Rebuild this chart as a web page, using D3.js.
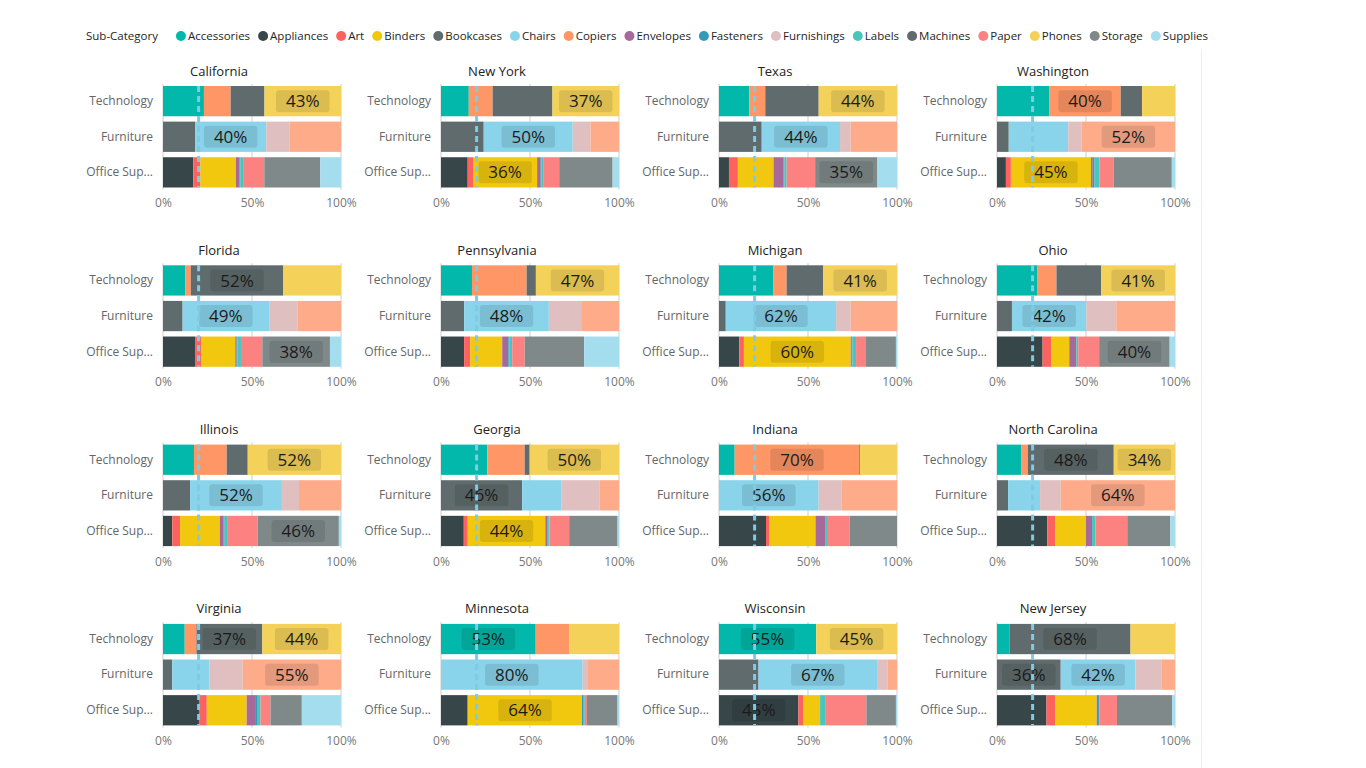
<!DOCTYPE html>
<html>
<head>
<meta charset="utf-8">
<script src="https://cdn.jsdelivr.net/npm/d3@7"></script>
<style>
  body { margin: 0; background: #fff; font-family: "Segoe UI", "Open Sans", sans-serif; }
</style>
</head>
<body>
<svg id="chart" width="1366" height="768"></svg>
<script>
// states, in reading order of the small multiples
var states = ["California", "New York", "Texas", "Washington",
              "Florida", "Pennsylvania", "Michigan", "Ohio",
              "Illinois", "Georgia", "Indiana", "North Carolina",
              "Virginia", "Minnesota", "Wisconsin", "New Jersey"];

var categories = ["Technology", "Furniture", "Office Supplies"];

var subCategories = ["Accessories", "Appliances", "Art", "Binders", "Bookcases", "Chairs",
                     "Copiers", "Envelopes", "Fasteners", "Furnishings", "Labels", "Machines",
                     "Paper", "Phones", "Storage", "Supplies", "Tables"];
var subColors = ["#01B8AA", "#374649", "#FD625E", "#F2C80F", "#5F6B6D", "#8AD4EB",
                 "#FE9666", "#A66999", "#3599B8", "#DFBFBF", "#4AC5BB", "#5F6B6D",
                 "#FB8281", "#F4D25A", "#7F898A", "#A4DDEE", "#FDAB89"];
// Tables is not shown in the (truncated) legend
var legendCount = 16;

var techSubs   = ["Accessories", "Copiers", "Machines", "Phones"];
var furnSubs   = ["Bookcases", "Chairs", "Furnishings", "Tables"];
var officeSubs = ["Appliances", "Art", "Binders", "Envelopes", "Fasteners", "Labels", "Paper", "Storage", "Supplies"];

// share of sales (%) per state
var techShares = [
  [23, 15, 19, 43], [15.6, 13.4, 33.6, 37.4], [17, 9, 30, 44], [29.5, 40, 12, 18.5],
  [12.6, 3, 52, 32.4], [17.4, 30.7, 5.2, 46.7], [30.6, 7.4, 20.6, 41.4], [22.8, 10.6, 25.2, 41.4],
  [17.4, 18.4, 11.8, 52.4], [26, 21, 2.8, 50.2], [8.8, 70, 0.4, 20.8], [13.8, 3.6, 48.2, 34.4],
  [12.2, 6.6, 37, 44.2], [53.2, 19, 0, 27.8], [54.6, 0, 0, 45.4], [7, 0, 68, 25]
];
var furnShares = [
  [18, 40, 13, 29], [24, 50, 10, 16], [24, 44, 6, 26], [6.6, 33.4, 7.6, 52.4],
  [11, 48.6, 16, 24.4], [13, 47.6, 18.6, 20.8], [3.8, 62, 8.2, 26], [8.4, 41.8, 16.8, 33],
  [15.2, 51.6, 9.6, 23.6], [45.6, 22.2, 21.4, 10.8], [0, 56, 13, 31], [6.2, 18, 11.6, 64.2],
  [5.2, 20.8, 18.8, 55.2], [0, 79.6, 3, 17.4], [22.2, 66.6, 5.8, 5.4], [35.8, 42, 14.8, 7.4]
];
var officeShares = [
  [17, 4, 20, 2, 0.4, 2, 11.5, 31.5, 11.6],
  [15, 3, 36, 2, 0.4, 1, 9, 30, 3.6],
  [5.6, 5, 20, 5.6, 0.5, 1.3, 16, 35, 11],
  [5, 2.8, 45, 1, 1, 2.8, 8, 32.6, 1.8],
  [18, 3.6, 19, 0.8, 0.4, 2, 12, 38, 6.2],
  [13, 3.4, 18, 3.4, 0.6, 1.6, 7, 33.4, 19.6],
  [11.4, 2.6, 60, 0.6, 0.4, 2, 5.6, 16.8, 0.6],
  [25.6, 5, 10, 3.2, 0.8, 1, 11.8, 39.6, 3],
  [5.2, 4.4, 22.4, 2, 0.6, 1.4, 17.2, 45.6, 1.2],
  [12.8, 2.2, 43.6, 1.2, 0.4, 0.8, 11, 27.2, 0.8],
  [26.4, 1.8, 26, 5.4, 0, 1.6, 12.2, 26.6, 0],
  [28.2, 4.6, 17.2, 2.8, 0.6, 2, 17.8, 24.2, 2.6],
  [20.2, 4.4, 22.4, 5.2, 0.6, 2, 5.6, 17.6, 22],
  [14.6, 0.6, 64, 0, 0.6, 1, 1.2, 17.2, 0.8],
  [44.6, 2.6, 9.6, 0, 0, 3.2, 22.8, 16.6, 0.6],
  [27.8, 5, 23.2, 0.8, 0.6, 0.4, 9.6, 31, 1.6]
];

var xTicks = [0, 0.5, 1];
var targetLine = 0.2;   // dashed constant line
var labelMin = 0.34;    // smallest segment that gets a data label

var svg = d3.select("#chart");
var color = d3.scaleOrdinal().domain(subCategories).range(subColors);

// ---- legend ----
var legend = svg.append("g").attr("transform", "translate(0,36)");
var lx = 86;
var lt = legend.append("text").attr("x", lx).attr("dy", "0.35em")
  .style("font-size", "11.5px").style("fill", "#252423").text("Sub-Category");
lx += lt.node().getComputedTextLength() + 23;
subCategories.slice(0, legendCount).forEach(function(s) {
  legend.append("circle").attr("cx", lx).attr("r", 5).attr("fill", color(s));
  var t = legend.append("text").attr("x", lx + 7).attr("dy", "0.35em")
    .style("font-size", "11.5px").style("fill", "#252423").text(s);
  lx += 7 + t.node().getComputedTextLength() + 13;
});

// right edge of the visual
svg.append("line").attr("x1", 1201.5).attr("x2", 1201.5).attr("y1", 50).attr("y2", 768)
  .attr("stroke", "#eeeeee");

// ---- small multiples ----
var colPos = d3.scaleBand().domain(d3.range(4)).range([80, 80 + 4 * 278]);
var rowPos = d3.scaleBand().domain(d3.range(4)).range([55, 55 + 4 * 179.3]);

var x = d3.scaleLinear().domain([0, 1]).range([83, 261]);
var y = d3.scaleBand().domain(categories).range([31, 132.5]).paddingInner(0.15);

var stack = d3.stack().keys(subCategories).offset(d3.stackOffsetExpand);

function rowFor(cat, subs, vals) {
  var r = { category: cat };
  subCategories.forEach(function(s) { r[s] = 0; });
  subs.forEach(function(s, j) { r[s] = vals[j]; });
  return r;
}

states.forEach(function(state, i) {
  var rows = [
    rowFor("Technology", techSubs, techShares[i]),
    rowFor("Furniture", furnSubs, furnShares[i]),
    rowFor("Office Supplies", officeSubs, officeShares[i])
  ];
  var series = stack(rows);

  var g = svg.append("g")
    .attr("transform", "translate(" + colPos(i % 4) + "," + rowPos(Math.floor(i / 4)) + ")");

  g.append("text").attr("x", 139).attr("y", 16).attr("dy", "0.35em")
    .attr("text-anchor", "middle").style("font-size", "13px").style("fill", "#222")
    .text(state);

  // gridlines
  g.selectAll(".grid").data(xTicks).enter().append("line")
    .attr("x1", function(d) { return x(d); }).attr("x2", function(d) { return x(d); })
    .attr("y1", y.range()[0] - 2).attr("y2", y.range()[1] + 2)
    .attr("stroke", "#e6e6e6").attr("stroke-width", 2);

  // bars
  var layers = g.selectAll(".layer").data(series).enter().append("g")
    .attr("fill", function(d) { return color(d.key); });
  layers.selectAll("rect")
    .data(function(d) { return d.filter(function(p) { return p[1] - p[0] > 0; }); })
    .enter().append("rect")
    .attr("x", function(d) { return x(d[0]); })
    .attr("y", function(d) { return y(d.data.category); })
    .attr("width", function(d) { return x(d[1]) - x(d[0]); })
    .attr("height", y.bandwidth());

  // data labels on large segments
  var big = [];
  series.forEach(function(s) {
    s.forEach(function(p) { if (p[1] - p[0] >= labelMin) big.push(p); });
  });
  var labels = g.selectAll(".lbl").data(big).enter().append("g")
    .attr("transform", function(d) {
      return "translate(" + x((d[0] + d[1]) / 2) + "," + (y(d.data.category) + y.bandwidth() / 2) + ")";
    });
  labels.append("rect").attr("class", "box");
  labels.append("text").attr("text-anchor", "middle").attr("dy", "0.36em")
    .style("font-size", "17px").style("fill", "#1a1a1a")
    .text(function(d) { return Math.round((d[1] - d[0]) * 100) + "%"; });
  labels.each(function() {
    var gl = d3.select(this);
    var w = gl.select("text").node().getComputedTextLength() + 20;
    gl.select("rect").attr("x", -w / 2).attr("y", -11).attr("width", w).attr("height", 22)
      .attr("rx", 3).attr("fill", "#000").attr("fill-opacity", 0.1);
  });

  // axes
  var xa = g.append("g").attr("transform", "translate(0," + y.range()[1] + ")")
    .call(d3.axisBottom(x).tickValues(xTicks).tickFormat(d3.format(".0%")).tickSize(0).tickPadding(11));
  xa.select(".domain").remove();
  xa.selectAll("text").style("font-size", "12px").style("fill", "#777")
    .style("font-family", "'Segoe UI','Open Sans',sans-serif");

  var ya = g.append("g").attr("transform", "translate(" + x(0) + ",0)")
    .call(d3.axisLeft(y).tickSize(0).tickPadding(10)
      .tickFormat(function(d) { return d.length > 12 ? d.slice(0, 10) + "..." : d; }));
  ya.select(".domain").remove();
  ya.selectAll("text").style("font-size", "12px").style("fill", "#666")
    .style("font-family", "'Segoe UI','Open Sans',sans-serif");

  // constant line at 20%
  g.append("line").attr("x1", x(targetLine)).attr("x2", x(targetLine))
    .attr("y1", y.range()[0]).attr("y2", y.range()[1])
    .attr("stroke", "#7ecbe6").attr("stroke-width", 3).attr("stroke-dasharray", "6,4");
});
</script>
</body>
</html>
